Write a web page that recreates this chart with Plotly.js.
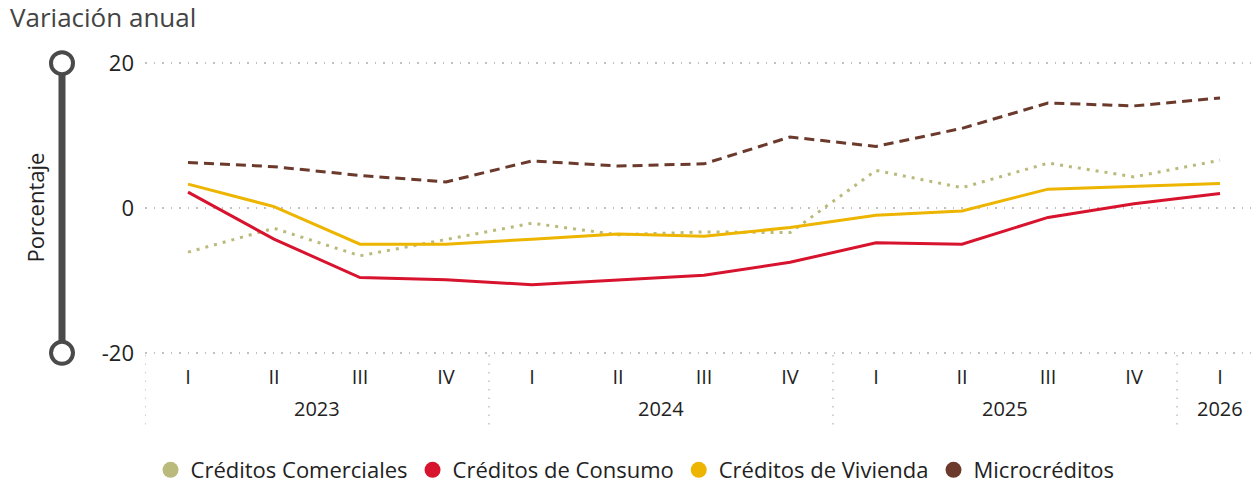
<!DOCTYPE html>
<html><head><meta charset="utf-8">
<script src="https://cdn.plot.ly/plotly-3.0.1.min.js"></script>
<style>html,body{margin:0;padding:0;background:#fff}#chart{width:1251px;height:491px}</style>
</head><body><div id="chart"></div>
<script>
const periods = ['2023-I','2023-II','2023-III','2023-IV','2024-I','2024-II','2024-III','2024-IV','2025-I','2025-II','2025-III','2025-IV','2026-I'];
const quarters = ['I','II','III','IV','I','II','III','IV','I','II','III','IV','I'];
const years = ['2023','2024','2025','2026'];
const quartersPerYear = [4,4,4,1];
const yTickVals = [-20,0,20];
const yTickText = ['-20','0','20'];

const comerciales = [-6.1,-2.8,-6.6,-4.4,-2.1,-3.7,-3.3,-3.4,5.2,2.8,6.2,4.3,6.6];
const consumo     = [2.2,-4.3,-9.6,-9.9,-10.6,-9.9,-9.3,-7.5,-4.8,-5.0,-1.3,0.6,2.0];
const vivienda    = [3.3,0.2,-5.0,-5.0,-4.3,-3.6,-3.9,-2.7,-1.0,-0.4,2.6,3.0,3.4];
const micro       = [6.3,5.7,4.5,3.6,6.5,5.8,6.1,9.8,8.5,11.0,14.5,14.1,15.2];

const seriesNames = ['Créditos Comerciales','Créditos de Consumo','Créditos de Vivienda','Microcréditos'];
const seriesData = [comerciales, consumo, vivienda, micro];
const colors = ['#BABA7C','#D7132E','#EDB500','#6B3A2C'];
const dashes = ['3px,6px','solid','solid','10px,6px'];

const font = 'Open Sans, Noto Sans, sans-serif';
const traces = [];
seriesData.forEach((d,i)=>{
  traces.push({x: periods, y: d, type:'scatter', mode:'lines', name: seriesNames[i],
    line:{color: colors[i], width: 3, dash: dashes[i]}, showlegend:false, hoverinfo:'skip'});
});
seriesData.forEach((d,i)=>{
  traces.push({x:[null], y:[null], type:'scatter', mode:'markers', name: seriesNames[i],
    marker:{color: colors[i], size: 16, symbol:'circle'}, showlegend:true});
});

const shapes = [];
const annotations = [];
let start = 0;
quartersPerYear.forEach((n,i)=>{
  const center = start + (n-1)/2;
  annotations.push({x: center, xref:'x', y: -0.183, yref:'paper', text: years[i], showarrow:false,
    font:{family: font, size: 20, color:'#222'}, xanchor:'center', yanchor:'middle'});
  shapes.push({type:'line', xref:'x', yref:'paper', x0: start-0.5, x1: start-0.5, y0: 0, y1: -0.258,
    line:{color:'#c0c0c0', width:1.5, dash:'1.5px,7px'}});
  start += n;
});
const barX = (62-145)/1106;
const barEnds = [0.0074, 0.9926];
shapes.push({type:'line', xref:'paper', yref:'paper', x0: barX, x1: barX, y0: barEnds[0], y1: barEnds[1],
  line:{color:'#4a4a4a', width:7}});
barEnds.forEach(yy=>{
  shapes.push({type:'circle', xref:'paper', yref:'paper', xsizemode:'pixel', ysizemode:'pixel',
    xanchor: barX, yanchor: yy, x0:-11, x1:11, y0:-11, y1:11,
    fillcolor:'#ffffff', line:{color:'#4a4a4a', width:4}});
});
annotations.push({x: (35-145)/1106, xref:'paper', y: 0.502, yref:'paper', text:'Porcentaje', textangle:-90,
  xanchor:'center', yanchor:'middle',
  showarrow:false, font:{family: font, size: 22, color:'#222'}});

const layout = {
  width: 1251, height: 491,
  margin:{l:145, r:0, t:61, b:135},
  paper_bgcolor:'#fff', plot_bgcolor:'#fff',
  title:{text:'Variación anual', xref:'container', yref:'container', x: 10/1251, xanchor:'left',
    y: 1-18/491, yanchor:'middle', font:{family: font, size: 26, color:'#444'}},
  xaxis:{type:'category', range:[-0.5, 12.36], tickvals: periods, ticktext: quarters,
    showgrid:false, zeroline:false, showline:false, ticks:'', ticklabelstandoff: 8,
    tickfont:{family: font, size: 20, color:'#222'}},
  yaxis:{range:[-20.3,20.3], tickvals: yTickVals, ticktext: yTickText, showgrid:true, gridcolor:'#c0c0c0', griddash:'1.5px,7px', gridwidth:1.5,
    zeroline:false, showline:false, ticks:'', ticklabelstandoff: 10,
    tickfont:{family: font, size: 22, color:'#222'}},
  legend:{orientation:'h', x: 0.005, xanchor:'left', y: -0.39, yanchor:'middle',
    font:{family: font, size: 22, color:'#222'}, itemclick:false, tracegroupgap:0},
  shapes: shapes, annotations: annotations,
  hovermode:false
};
Plotly.newPlot('chart', traces, layout, {displayModeBar:false, staticPlot:true});
</script></body></html>
